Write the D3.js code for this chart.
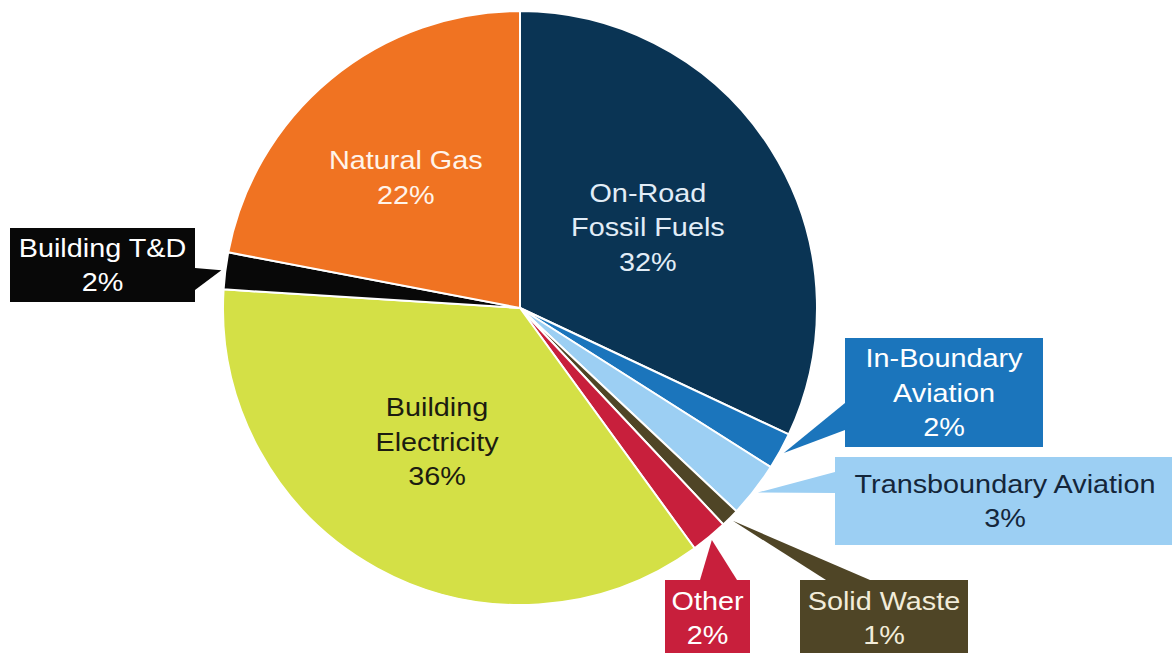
<!DOCTYPE html>
<html>
<head>
<meta charset="utf-8">
<script src="https://cdn.jsdelivr.net/npm/d3@7/dist/d3.min.js"></script>
<style>
  html, body { margin: 0; padding: 0; background: #ffffff; }
  svg { display: block; }
  text { font-family: "Liberation Sans", Arial, sans-serif; }
</style>
</head>
<body>
<svg id="chart" width="1172" height="653"></svg>
<script>
// Emissions by source, clockwise from 12 o'clock
const categories = ["On-Road Fossil Fuels", "In-Boundary Aviation", "Transboundary Aviation",
                    "Solid Waste", "Other", "Building Electricity", "Building T&D", "Natural Gas"];
const shares = [32, 2, 3, 1, 2, 36, 2, 22];
const labelLines = [["On-Road", "Fossil Fuels"], ["In-Boundary", "Aviation"], ["Transboundary Aviation"],
                    ["Solid Waste"], ["Other"], ["Building", "Electricity"], ["Building T&D"], ["Natural Gas"]];
const sliceColors = ["#0a3454", "#1b75bc", "#9ccff3", "#4f4526", "#c81f3c", "#d4e046", "#080808", "#f07322"];
const textColors  = ["#e2edf7", "#ffffff", "#14263a", "#f2ecd9", "#ffffff", "#1c1c10", "#ffffff", "#fff4ea"];

// Geometry
const cx = 520, cy = 308, R = 297;
const fontSize = 25.5, stretch = 1.13, lineH = 34.5;

// Labels drawn inside their slice: radius as fraction of R, angular nudge in degrees
const insideLabels = {
  "On-Road Fossil Fuels": { r: 0.51, da: 0 },
  "Building Electricity": { r: 0.53, da: 3 },
  "Natural Gas":          { r: 0.585, da: -1.5 }
};

// Callout boxes: box rect, and the base of the pointer on the box edge
const callouts = {
  "Building T&D":           { box: [10, 228, 185, 74],  base: [[195, 268], [195, 290]] },
  "In-Boundary Aviation":   { box: [845, 338, 198, 109], base: [[845, 403], [845, 430]] },
  "Transboundary Aviation": { box: [835, 457, 340, 88],  base: [[835, 472], [835, 493]] },
  "Solid Waste":            { box: [800, 580, 168, 76],  base: [[826, 580], [870, 580]] },
  "Other":                  { box: [665, 580, 85, 76],   base: [[700, 580], [737, 580]] }
};

const svg = d3.select("#chart");
const g = svg.append("g").attr("transform", `translate(${cx},${cy})`);

const rows = categories.map((c, i) => ({ name: c, value: shares[i], lines: labelLines[i],
                                         color: sliceColors[i], text: textColors[i] }));

const pie = d3.pie().sort(null).value(d => d.value);
const arcs = pie(rows);
const arc = d3.arc().innerRadius(0).outerRadius(R);

// Pointers go under the slices
const pointerLayer = svg.append("g");
const sliceLayer = g.append("g");
const labelLayer = svg.append("g");

sliceLayer.selectAll("path")
  .data(arcs)
  .join("path")
  .attr("d", arc)
  .attr("fill", d => d.data.color)
  .attr("stroke", "#ffffff")
  .attr("stroke-width", 2)
  .attr("stroke-linejoin", "round");

function drawLines(layer, lines, x, yMid, color) {
  const n = lines.length;
  lines.forEach((ln, i) => {
    const y = yMid + (i - (n - 1) / 2) * lineH + fontSize * 0.36;
    layer.append("text")
      .attr("transform", `translate(${x},${y}) scale(${stretch},1)`)
      .attr("text-anchor", "middle")
      .attr("font-size", fontSize)
      .attr("fill", color)
      .text(ln);
  });
}

const polar = (a, r) => [cx + r * Math.sin(a), cy - r * Math.cos(a)];

arcs.forEach(d => {
  const name = d.data.name;
  const lines = d.data.lines.concat([`${d.data.value}%`]);
  const mid = (d.startAngle + d.endAngle) / 2;
  if (insideLabels[name] !== undefined) {
    const p = insideLabels[name];
    const [x, y] = polar(mid + p.da * Math.PI / 180, R * p.r);
    drawLines(labelLayer, lines, x, y, d.data.text);
  } else if (callouts[name]) {
    const c = callouts[name];
    const tip = polar(mid, R + 4);
    pointerLayer.append("path")
      .attr("d", d3.line()([c.base[0], tip, c.base[1]]) + "Z")
      .attr("fill", d.data.color);
    const [bx, by, bw, bh] = c.box;
    labelLayer.append("rect")
      .attr("x", bx).attr("y", by).attr("width", bw).attr("height", bh)
      .attr("fill", d.data.color);
    drawLines(labelLayer, lines, bx + bw / 2, by + bh / 2, d.data.text);
  }
});
</script>
</body>
</html>
